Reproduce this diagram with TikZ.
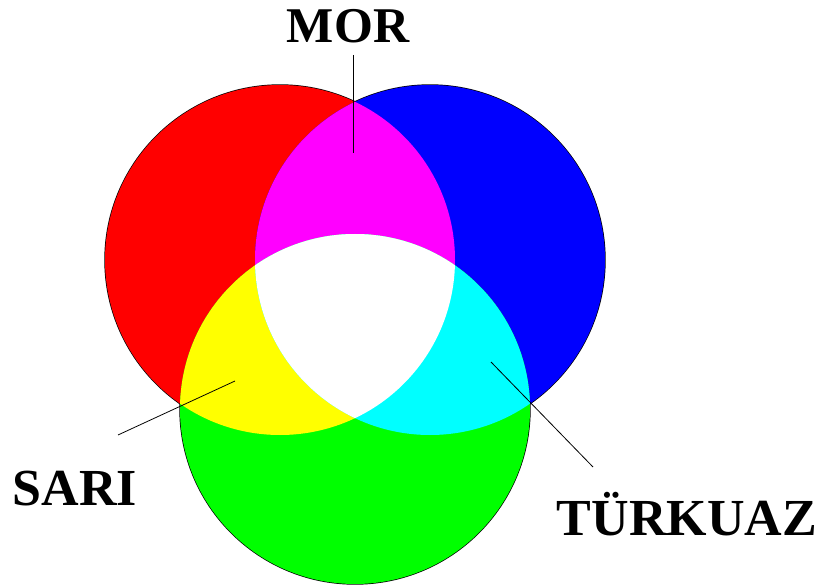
\documentclass[tikz,border=0pt]{standalone}
\usepackage{fontspec}
\setmainfont{Liberation Serif}
\definecolor{lightR}{RGB}{255,0,0}
\definecolor{lightG}{RGB}{0,255,0}
\definecolor{lightB}{RGB}{0,0,255}
\definecolor{mixRB}{RGB}{255,0,255}
\definecolor{mixRG}{RGB}{255,255,0}
\definecolor{mixGB}{RGB}{0,255,255}

\begin{document}
\begin{tikzpicture}[
    x=1pt,
    y=-1pt,
    rim/.style={
        draw=black,
        line width=1.4pt
    },
    colorname/.style={
        anchor=base,
        inner sep=0pt,
        font=\bfseries\fontsize{52}{60}\selectfont
    },
    leader/.style={
        draw=black,
        line width=0.8pt
    }
]

    \useasboundingbox (0,0) rectangle (828,588);

    % Centres
    \coordinate (R) at (280,260);
    \coordinate (B) at (430,260);
    \coordinate (G) at (355,409);

    % Outlines (inner parts get covered by the fills)
    \draw[rim] (R) circle[radius=175];
    \draw[rim] (B) circle[radius=175];
    \draw[rim] (G) circle[radius=175];

    % Primary discs
    \fill[lightR] (R) circle[radius=175];
    \fill[lightB] (B) circle[radius=175];
    \fill[lightG] (G) circle[radius=175];

    % Mixes
    \begin{scope}
        \clip (R) circle[radius=175];
        \fill[mixRB] (B) circle[radius=175];
        \fill[mixRG] (G) circle[radius=175];
    \end{scope}
    \begin{scope}
        \clip (B) circle[radius=175];
        \fill[mixGB] (G) circle[radius=175];
    \end{scope}
    \begin{scope}
        \clip (R) circle[radius=175];
        \clip (B) circle[radius=175];
        \fill[white] (G) circle[radius=175];
    \end{scope}

    % Labels
    \node[colorname, font=\bfseries\fontsize{50}{60}\selectfont] (mor) at (348,43) {MOR};
    \node[colorname] (sari) at (75,505) {SARI};
    \node[colorname] (turkuaz) at (687,535) {TÜRKUAZ};

    % Leader lines
    \coordinate (morTop) at (353,55);
    \coordinate (morTip) at (353,153);
    \coordinate (sariEnd) at (118,435);
    \coordinate (sariTip) at (235,381);
    \coordinate (turkuazEnd) at (593,467);
    \coordinate (turkuazTip) at (491,362);

    \draw[leader] (morTop) -- (morTip);
    \draw[leader] (sariEnd) -- (sariTip);
    \draw[leader] (turkuazEnd) -- (turkuazTip);

\end{tikzpicture}
\end{document}
